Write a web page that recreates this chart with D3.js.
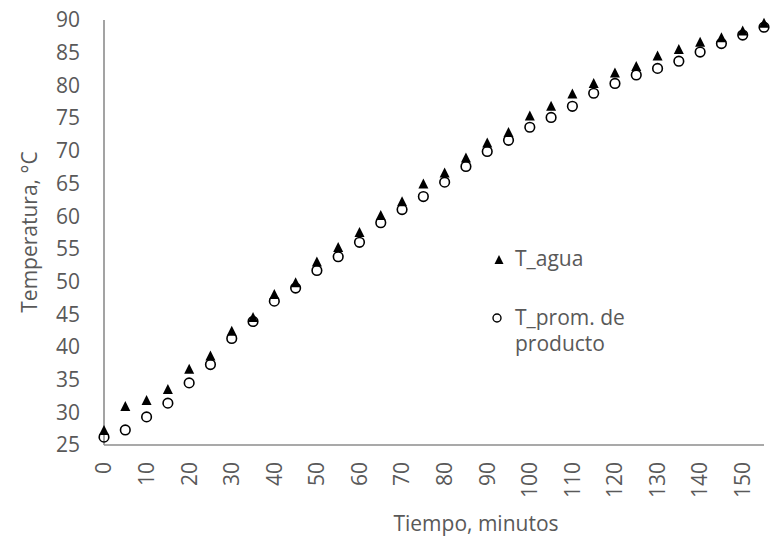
<!DOCTYPE html>
<html>
<head>
<meta charset="utf-8">
<script src="https://cdn.jsdelivr.net/npm/d3@7"></script>
<style>
  body { margin: 0; background: #fff; }
  text { font-family: "Open Sans", sans-serif; fill: #595959; }
</style>
</head>
<body>
<div id="chart"></div>
<script>
// Tiempo (minutos)
const tiempo = [0, 5, 10, 15, 20, 25, 30, 35, 40, 45, 50, 55, 60, 65, 70, 75,
  80, 85, 90, 95, 100, 105, 110, 115, 120, 125, 130, 135, 140, 145, 150, 155];

// T_agua (°C)
const tAgua = [27.2, 30.9, 31.8, 33.5, 36.6, 38.6, 42.4, 44.5, 48.0, 49.8, 53.0, 55.2,
  57.5, 60.1, 62.2, 64.9, 66.6, 68.9, 71.2, 72.8, 75.3, 76.8, 78.7, 80.3,
  81.9, 82.9, 84.5, 85.5, 86.6, 87.3, 88.3, 89.5];

// T_prom. de producto (°C)
const tProducto = [26.2, 27.3, 29.3, 31.4, 34.5, 37.3, 41.3, 43.9, 47.0, 49.0, 51.7, 53.8,
  56.0, 59.0, 61.0, 63.0, 65.2, 67.6, 69.9, 71.6, 73.6, 75.1, 76.8, 78.8,
  80.3, 81.6, 82.6, 83.7, 85.1, 86.4, 87.7, 88.9];

const xTicks = [0, 10, 20, 30, 40, 50, 60, 70, 80, 90, 100, 110, 120, 130, 140, 150];
const yTicks = [25, 30, 35, 40, 45, 50, 55, 60, 65, 70, 75, 80, 85, 90];

const width = 774, height = 540;
const margin = {top: 20, right: 10, bottom: 95, left: 104};

const svg = d3.select('#chart').append('svg')
    .attr('width', width)
    .attr('height', height);

const x = d3.scaleLinear().domain([0, 155]).range([margin.left, 764]);
const y = d3.scaleLinear().domain([25, 90]).range([445, margin.top]);

// y labels
svg.append('g')
  .selectAll('text')
  .data(yTicks)
  .join('text')
    .attr('x', 80)
    .attr('y', d => y(d))
    .attr('dy', '0.35em')
    .attr('text-anchor', 'end')
    .style('font-size', '21px')
    .text(d => d);

// x labels (rotated)
svg.append('g')
  .selectAll('text')
  .data(xTicks)
  .join('text')
    .attr('transform', d => `translate(${x(d)},462) rotate(-90)`)
    .attr('dy', '0.35em')
    .attr('text-anchor', 'end')
    .style('font-size', '21px')
    .text(d => d);

// axis lines
svg.append('line')
    .attr('x1', x(0)).attr('x2', x(0))
    .attr('y1', y(90)).attr('y2', y(25))
    .attr('stroke', '#8c8c8c').attr('stroke-width', 1.6);
svg.append('line')
    .attr('x1', x(0)).attr('x2', x(155))
    .attr('y1', y(25)).attr('y2', y(25))
    .attr('stroke', '#8c8c8c').attr('stroke-width', 1.6);

// titles
svg.append('text')
    .attr('transform', 'translate(37,232) rotate(-90)')
    .attr('text-anchor', 'middle')
    .style('font-size', '21px')
    .text('Temperatura, °C');

svg.append('text')
    .attr('x', 476)
    .attr('y', 531)
    .attr('text-anchor', 'middle')
    .style('font-size', '21px')
    .text('Tiempo, minutos');

const tri = 'M0,-5.5L5,4.5L-5,4.5Z';

// series: producto (circles)
svg.append('g')
  .selectAll('circle')
  .data(tiempo.map((t, i) => ({t, v: tProducto[i]})))
  .join('circle')
    .attr('cx', d => x(d.t))
    .attr('cy', d => y(d.v))
    .attr('r', 4.8)
    .attr('fill', 'none')
    .attr('stroke', '#000')
    .attr('stroke-width', 1.6);

// series: agua (triangles)
svg.append('g')
  .selectAll('path')
  .data(tiempo.map((t, i) => ({t, v: tAgua[i]})))
  .join('path')
    .attr('transform', d => `translate(${x(d.t)},${y(d.v)})`)
    .attr('d', tri)
    .attr('fill', '#000');

// legend
const legend = svg.append('g');
legend.append('path')
    .attr('transform', 'translate(499,260)')
    .attr('d', 'M0,-5L4.5,4L-4.5,4Z')
    .attr('fill', '#000');
legend.append('text')
    .attr('x', 515).attr('y', 266)
    .style('font-size', '21px')
    .text('T_agua');
legend.append('circle')
    .attr('cx', 497).attr('cy', 318).attr('r', 4)
    .attr('fill', 'none').attr('stroke', '#000').attr('stroke-width', 1.4);
legend.append('text')
    .attr('x', 515).attr('y', 325)
    .style('font-size', '21px')
    .text('T_prom. de');
legend.append('text')
    .attr('x', 515).attr('y', 351)
    .style('font-size', '21px')
    .text('producto');
</script>
</body>
</html>
